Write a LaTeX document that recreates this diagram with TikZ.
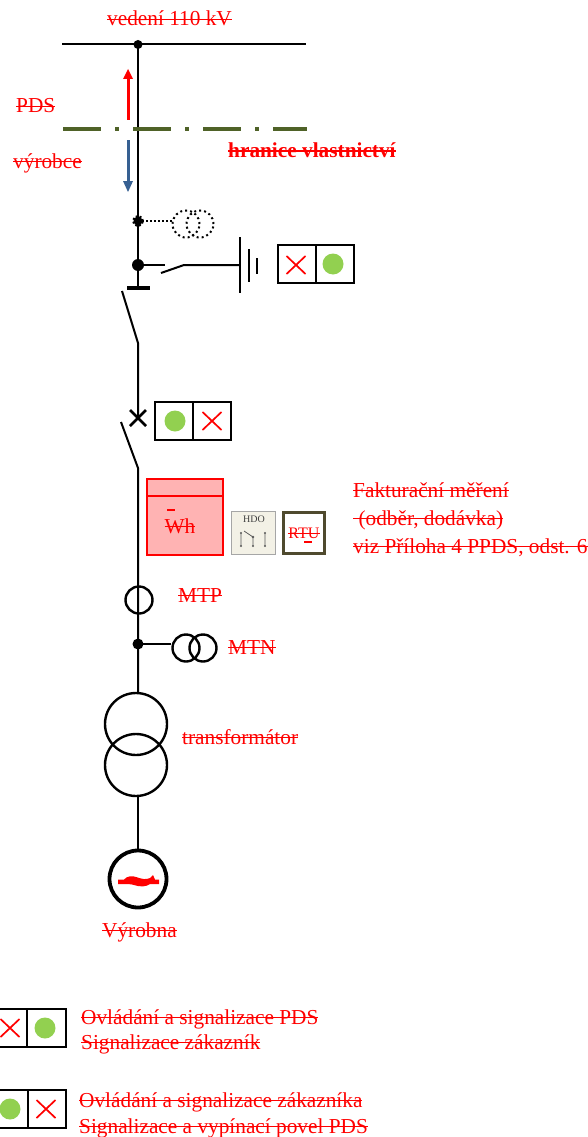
\documentclass[tikz,border=0pt]{standalone}
\usepackage{fontspec}
\setmainfont{Liberation Serif}
\definecolor{grn}{HTML}{92D050}
\definecolor{olv}{HTML}{4F6228}
\definecolor{blu}{HTML}{376092}
\definecolor{wfill}{HTML}{FFB3B3}
\definecolor{hdof}{HTML}{F3F1E6}
\definecolor{rtub}{HTML}{4F4A2E}
\newcommand{\strk}[1]{\leavevmode\setbox0=\hbox{#1}\rlap{\raisebox{0.26em}{\rule{\wd0}{0.09em}}}\box0}
\tikzset{
  wire/.style={draw=black,line width=2pt},
  txt/.style={text=red,anchor=base west,inner sep=0pt,font=\fontsize{21.3}{23}\selectfont},
  dotn/.style={circle,fill=black,inner sep=0pt,minimum size=#1},
  ring/.style={circle,draw=black,line width=2.4pt,inner sep=0pt,minimum size=#1},
  dotring/.style={circle,draw=black,line width=2pt,dash pattern=on 2pt off 3pt,inner sep=0pt,minimum size=27pt},
  ctrl/.style={draw=black,line width=2pt},
  lamp/.style={circle,fill=grn,inner sep=0pt,minimum size=21pt},
  redx/.style={draw=red,line width=1.7pt},
  bar/.style={draw=black,line width=2.2pt}
}
\newcommand{\redcross}[2]{\draw[redx] (#1-9.5,#2-9) -- (#1+9.5,#2+9) (#1-9.5,#2+9) -- (#1+9.5,#2-9);}
\begin{document}
\begin{tikzpicture}[x=1pt,y=-1pt]
\useasboundingbox (0,0) rectangle (587,1137);
% named points
\coordinate (busL) at (62,44.5); \coordinate (busR) at (306,44.5);
\node[dotn=9pt] (busdot) at (138,44.5) {};
\node[dotn=9pt] (vtdot) at (138,221) {};
\node[dotn=12pt] (esdot) at (138,265) {};
\coordinate (barC) at (138,288); \coordinate (barL) at (127,288); \coordinate (barR) at (150,288);
\coordinate (d1top) at (122,291); \coordinate (d1piv) at (138,343);
\coordinate (cbC) at (138,418);
\coordinate (d2top) at (121,422); \coordinate (d2piv) at (138,468);
\node[dotn=11pt] (mtndot) at (138,644) {};
% transformer and generator
\node[ring=62pt] (t1) at (136,724) {};
\node[ring=62pt] (t2) at (136,765) {};
\node[circle,draw=black,line width=3.8pt,inner sep=0pt,minimum size=57pt] (gen) at (138,879) {};
% main line
\draw[wire] (busL) -- (busR);
\draw[wire] (busdot.center) -- (barC);
\draw[line width=3.8pt] (barL) -- (barR);
\draw[wire] (d1top) -- (d1piv) -- (cbC);
\draw[wire] (d2top) -- (d2piv) -- (138,693);
\draw[line width=2.8pt] (130,410) -- (146,426) (130,426) -- (146,410);
\draw[wire] (138,796) -- (gen.north);
% property boundary and arrows
\coordinate (bndL) at (63,129); \coordinate (bndR) at (307,129);
\draw[olv,line width=4.4pt,dash pattern=on 38pt off 14pt on 4pt off 14pt] (bndL) -- (bndR);
\coordinate (a1s) at (128,120); \coordinate (a1e) at (128,69);
\coordinate (a2s) at (128,140); \coordinate (a2e) at (128,192);
\fill[red] (123,79) -- (128,69) -- (133,79) -- cycle;
\draw[red,line width=3pt] (a1s) -- (128,78);
\fill[blu] (123,181) -- (128,192) -- (133,181) -- cycle;
\draw[blu,line width=3pt] (a2s) -- (128,182);
% voltage transformer (dotted)
\node[dotring] (vt1) at (186,224) {};
\node[dotring] (vt2) at (200,224) {};
\draw[black,line width=2pt,dash pattern=on 2pt off 2pt] (vtdot.center) -- (172.5,221);
\draw[black,line width=2pt,dash pattern=on 2pt off 2pt] (vtdot) circle (5pt);
% earthing switch
\coordinate (es1) at (165,265); \coordinate (es2) at (161,273); \coordinate (es3) at (184,265);
\coordinate (eb1t) at (240,237); \coordinate (eb1b) at (240,293);
\draw[wire] (esdot.center) -- (es1);
\draw[wire] (es2) -- (es3) -- (240,265);
\draw[bar] (eb1t) -- (eb1b);
\draw[bar] (249,249) -- (249,282);
\draw[bar] (257,258) -- (257,274);
% control box 1
\draw[ctrl] (278,245) rectangle (354,283) (315.5,245) -- (315.5,283);
\redcross{296}{265}
\node[lamp] (l1) at (333,264) {};
% control box 2
\draw[ctrl] (154.5,402) rectangle (231,440) (193,402) -- (193,440);
\node[lamp] (l2) at (175,421) {};
\redcross{212}{421}
% meter
\draw[red,line width=2.6pt,fill=wfill] (147,479) rectangle (223,555);
\draw[red,line width=2.6pt] (147,496) -- (223,496);
\node[txt,anchor=base] (wh) at (180,533) {\strk{Wh}};
\draw[red,line width=1.6pt] (167,510) -- (175,510);
% HDO
\node[draw=gray!70,line width=0.9pt,fill=hdof,minimum width=44pt,minimum height=43pt,inner sep=0pt] (hdo) at (253,532.5) {};
\node[text=black!75,font=\fontsize{10}{11}\selectfont,inner sep=0pt] (hdot) at (254,519.5) {HDO};
\draw[black!65,line width=0.8pt] (241,533) -- (241,546) (253,537) -- (253,546) (265,533) -- (265,546) (244,531) -- (253,537);
\fill[black!65] (241,533) circle (1.2pt) (241,546) circle (1.2pt) (253,537) circle (1.4pt) (253,546) circle (1.2pt) (265,533) circle (1.2pt) (265,546) circle (1.2pt);
% RTU
\node[draw=rtub,line width=3pt,fill=white,minimum width=41pt,minimum height=41pt,inner sep=0pt] (rtu) at (304,533) {};
\node[txt,anchor=base,font=\fontsize{16}{18}\selectfont] (rtut) at (304,538.5) {\strk{RTU}};
\draw[red,line width=1.4pt] (304,542) -- (312,542);
% MTP, MTN
\node[ring=27pt] (mtp) at (139,600) {};
\node[ring=27pt] (mtn1) at (186,648) {};
\node[ring=27pt] (mtn2) at (203,648) {};
\draw[wire] (mtndot.center) -- (mtn1.west |- mtndot.center);
% generator symbol
\fill[red] (118,879.5) -- (124,879.5) .. controls (127,876) and (132,875.5) .. (136,877)
  .. controls (142,879) and (146,880) .. (150,878) -- (153,875) -- (155,879.5) -- (159,879.5) -- (159,884)
  -- (150,884) .. controls (146,887) and (140,887) .. (134,885) .. controls (131,884) and (127,884) .. (124,884) -- (118,884) -- cycle;
% legend
\draw[ctrl] (-10,1009) rectangle (66,1047) (27,1009) -- (27,1047);
\redcross{10}{1028}
\node[lamp] (l3) at (45,1028) {};
\draw[ctrl] (-10,1090) rectangle (66,1128) (28,1090) -- (28,1128);
\node[lamp] (l4) at (10,1109) {};
\redcross{46}{1109}
% texts
\node[txt] (t-ved) at (107,26) {\strk{vedení 110 kV}};
\node[txt] (t-pds) at (16,113) {\strk{PDS}};
\node[txt] (t-vyr) at (13,168) {\strk{výrobce}};
\node[txt,font=\fontsize{21.3}{23}\selectfont\bfseries] (t-hr) at (228,157.5) {\strk{hranice vlastnictví}};
\node[txt] (t-f1) at (353,497) {\strk{Fakturační měření}};
\node[txt] (t-f2) at (353,525) {\strk{\ (odběr, dodávka)}};
\node[txt] (t-f3) at (353,553) {\strk{viz Příloha 4 PPDS, odst. 6}};
\node[txt] (t-mtp) at (178,602) {\strk{MTP}};
\node[txt] (t-mtn) at (228,654) {\strk{MTN}};
\node[txt] (t-tr) at (182,744) {\strk{transformátor}};
\node[txt] (t-vy) at (102,937) {\strk{Výrobna}};
\node[txt] (t-l1) at (81,1024) {\strk{Ovládání a signalizace PDS}};
\node[txt] (t-l2) at (81,1049) {\strk{Signalizace zákazník}};
\node[txt] (t-l3) at (79,1107) {\strk{Ovládání a signalizace zákazníka}};
\node[txt] (t-l4) at (79,1133) {\strk{Signalizace a vypínací povel PDS}};
\end{tikzpicture}
\end{document}
